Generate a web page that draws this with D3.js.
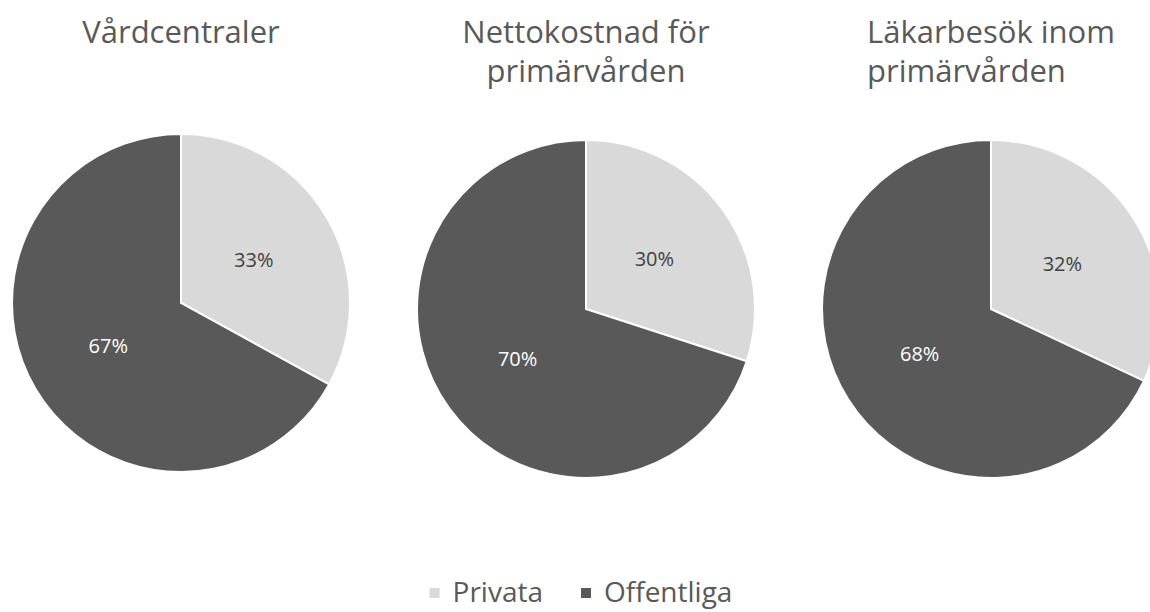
<!DOCTYPE html>
<html>
<head>
<meta charset="utf-8">
<script src="https://cdn.jsdelivr.net/npm/d3@7"></script>
<style>
  body { margin: 0; background: #fff; }
  svg { display: block; }
</style>
</head>
<body>
<div id="chart"></div>
<script>
var width = 1150;
var height = 612;

// data
var categories = ["Privata", "Offentliga"];
var chartTitles = [
    ["Vårdcentraler"],
    ["Nettokostnad för", "primärvården"],
    ["Läkarbesök inom", "primärvården"]
];
var privataShare = [33, 30, 32];
var offentligaShare = [67, 70, 68];

var colors = ["#d9d9d9", "#595959"];
var labelColors = ["#404040", "#ffffff"];
var fontFamily = "'Open Sans', 'DejaVu Sans', sans-serif";

// layout of each pie (center and title alignment)
var pieLayout = [
    { cx: 181, cy: 303, align: "middle" },
    { cx: 586, cy: 309, align: "middle" },
    { cx: 991, cy: 309, align: "start" }
];
var radius = 169;

var svg = d3.select("#chart")
            .append("svg")
            .attr("width", width)
            .attr("height", height);

var pie = d3.pie()
            .value(function(d) { return d.value; })
            .sort(null);

var arc = d3.arc()
            .innerRadius(0)
            .outerRadius(radius);

chartTitles.forEach(function(lines, i) {
    var lay = pieLayout[i];
    var data = [
        { name: categories[0], value: privataShare[i] },
        { name: categories[1], value: offentligaShare[i] }
    ];

    var g = svg.append("g")
               .attr("transform", "translate(" + lay.cx + "," + lay.cy + ")");

    g.selectAll("path")
        .data(pie(data))
        .enter()
        .append("path")
        .attr("d", arc)
        .attr("fill", function(d, j) { return colors[j]; })
        .attr("stroke", "#ffffff")
        .attr("stroke-width", 2);

    g.selectAll("text.lbl")
        .data(pie(data))
        .enter()
        .append("text")
        .attr("class", "lbl")
        .attr("transform", function(d) { return "translate(" + arc.centroid(d) + ")"; })
        .attr("text-anchor", "middle")
        .attr("dy", "0.35em")
        .style("font-family", fontFamily)
        .style("font-size", "20px")
        .attr("fill", function(d, j) { return labelColors[j]; })
        .text(function(d) { return d.data.value + "%"; });

    // title
    var texts = svg.append("g")
        .selectAll("text")
        .data(lines)
        .enter()
        .append("text")
        .attr("y", function(d, k) { return 43 + k * 39; })
        .style("font-family", fontFamily)
        .style("font-size", "31px")
        .attr("fill", "#595959")
        .text(function(d) { return d; });

    if (lay.align === "middle") {
        texts.attr("x", lay.cx).attr("text-anchor", "middle");
    } else {
        var maxW = 0;
        texts.each(function() { maxW = Math.max(maxW, this.getComputedTextLength()); });
        texts.attr("x", lay.cx - maxW / 2).attr("text-anchor", "start");
    }
});

// legend
var legend = svg.append("g");
var items = legend.selectAll("g")
    .data(categories)
    .enter()
    .append("g");

items.append("rect")
    .attr("width", 10)
    .attr("height", 10)
    .attr("y", -14)
    .attr("fill", function(d, i) { return colors[i]; });

items.append("text")
    .attr("x", 23)
    .style("font-family", fontFamily)
    .style("font-size", "28px")
    .attr("fill", "#595959")
    .text(function(d) { return d; });

var xPos = 0;
var offsets = [];
items.each(function() {
    offsets.push(xPos);
    var w = d3.select(this).select("text").node().getComputedTextLength();
    xPos += 23 + w + 38;
});
var totalW = xPos - 38;
var legendStart = 581 - totalW / 2;
items.attr("transform", function(d, i) { return "translate(" + (legendStart + offsets[i]) + ",602)"; });
</script>
</body>
</html>
